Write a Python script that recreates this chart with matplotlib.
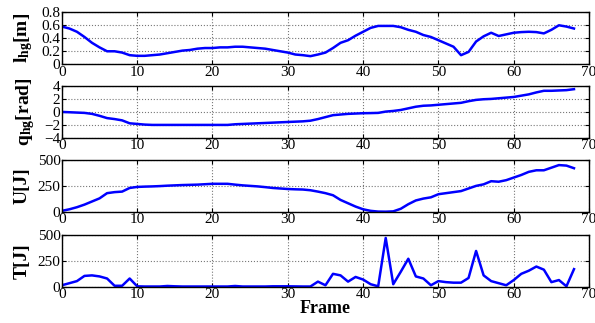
import numpy as np
import matplotlib
matplotlib.use("Agg")
from matplotlib import pyplot as plt

frame = np.arange(69)

l_hg = [0.58, 0.55, 0.50, 0.42, 0.33, 0.26, 0.20, 0.20, 0.18, 0.14,
        0.13, 0.13, 0.14, 0.15, 0.17, 0.19, 0.21, 0.22, 0.24, 0.25,
        0.25, 0.26, 0.26, 0.27, 0.27, 0.26, 0.25, 0.24, 0.22, 0.20,
        0.18, 0.15, 0.14, 0.125, 0.15, 0.18, 0.25, 0.33, 0.37, 0.44,
        0.50, 0.56, 0.59, 0.59, 0.59, 0.57, 0.53, 0.50, 0.45, 0.42,
        0.37, 0.32, 0.27, 0.14, 0.19, 0.35, 0.43, 0.485, 0.435, 0.46,
        0.485, 0.495, 0.50, 0.495, 0.475, 0.53, 0.60, 0.58, 0.55]

q_hg = [0.0, -0.05, -0.1, -0.15, -0.3, -0.6, -0.95, -1.1, -1.3, -1.75,
        -1.85, -1.95, -2.0, -2.0, -2.0, -2.0, -2.0, -2.0, -2.0, -2.0,
        -2.0, -2.0, -2.0, -1.9, -1.85, -1.8, -1.75, -1.7, -1.65, -1.6,
        -1.55, -1.5, -1.45, -1.35, -1.1, -0.8, -0.5, -0.4, -0.3, -0.25,
        -0.2, -0.18, -0.15, 0.05, 0.15, 0.3, 0.55, 0.8, 0.95, 1.0,
        1.1, 1.2, 1.3, 1.4, 1.65, 1.85, 1.95, 2.0, 2.1, 2.2,
        2.3, 2.5, 2.7, 3.0, 3.25, 3.25, 3.3, 3.35, 3.5]

U = [10, 25, 45, 70, 100, 130, 180, 190, 195, 230,
     240, 243, 245, 248, 252, 255, 258, 260, 262, 266,
     270, 270, 270, 262, 255, 250, 245, 238, 230, 225,
     220, 217, 215, 208, 195, 180, 160, 115, 83, 51,
     25, 10, 3, 2, 5, 30, 74, 110, 128, 140,
     170, 180, 190, 200, 225, 250, 265, 295, 290, 305,
     330, 355, 385, 400, 400, 425, 450, 445, 420]

T = [15, 35, 55, 105, 110, 100, 80, 10, 10, 80,
     5, 3, 3, 3, 8, 5, 3, 3, 3, 3,
     3, 3, 3, 8, 3, 3, 3, 3, 5, 5,
     5, 4, 3, 3, 50, 15, 125, 110, 50, 95,
     70, 25, 5, 470, 25, 145, 270, 100, 80, 15,
     55, 45, 40, 40, 85, 345, 110, 55, 35, 15,
     65, 125, 155, 195, 165, 45, 65, 5, 170]

plt.rcParams['font.family'] = ['Liberation Serif', 'DejaVu Serif']
plt.rcParams['mathtext.fontset'] = 'custom'
plt.rcParams['mathtext.rm'] = 'Liberation Serif'
plt.rcParams['mathtext.bf'] = 'Liberation Serif:bold'
plt.rcParams['mathtext.it'] = 'Liberation Serif:italic'

fig = plt.figure(figsize=(5.95, 3.23), dpi=100)

panels = [
    (l_hg, (0, 0.8), [0, 0.2, 0.4, 0.6, 0.8], ['0', '0.2', '0.4', '0.6', '0.8'],
     r'$\mathbf{l_{hg}}$[m]', 0.801),
    (q_hg, (-4, 4), [-4, -2, 0, 2, 4], ['\u22124', '\u22122', '0', '2', '4'],
     r'$\mathbf{q_{hg}}$[rad]', 0.573),
    (U, (0, 500), [0, 250, 500], ['0', '250', '500'], 'U[J]', 0.344),
    (T, (0, 500), [0, 250, 500], ['0', '250', '500'], 'T[J]', 0.112),
]

for vals, ylim, yt, ytl, lab, bottom in panels:
    ax = fig.add_axes([0.104, bottom, 0.886, 0.161])
    ax.plot(frame, vals, color='#0000ff', linewidth=1.8)
    ax.set_xlim(0, 70)
    ax.set_ylim(*ylim)
    ax.set_yticks(yt)
    ax.set_yticklabels(ytl)
    ax.set_xticks(range(0, 71, 10))
    ax.tick_params(direction='in', top=True, right=True, labelsize=11,
                   length=3, pad=1)
    ax.grid(True, linestyle=':', color='#777777', linewidth=0.8)
    ax.set_ylabel(lab, fontsize=14, fontweight='bold', labelpad=5)
    for s in ax.spines.values():
        s.set_linewidth(1.0)
    if bottom < 0.2:
        ax.set_xlabel('Frame', fontsize=13, fontweight='bold', labelpad=-1)

fig.savefig('out.png', dpi=100)
